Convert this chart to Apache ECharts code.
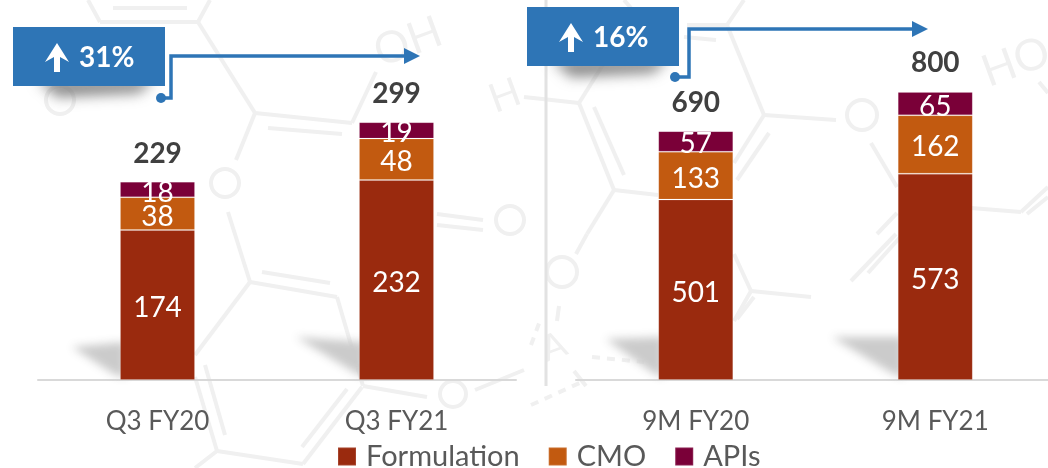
<!DOCTYPE html>
<html>
<head>
<meta charset="utf-8">
<style>
  html, body { margin: 0; padding: 0; background: #fff; overflow: hidden; }
  #chart { width: 1048px; height: 468px; }
</style>
<script src="https://cdn.jsdelivr.net/npm/echarts@6/dist/echarts.min.js"></script>
</head>
<body>
<div id="chart"></div>
<script>
const quarterLabels = ['Q3 FY20', 'Q3 FY21'];
const nineMonthLabels = ['9M FY20', '9M FY21'];

const formulationQ = [174, 232];
const cmoQ = [38, 48];
const apisQ = [18, 19];
const totalQ = [229, 299];

const formulation9M = [501, 573];
const cmo9M = [133, 162];
const apis9M = [57, 65];
const total9M = [690, 800];

const seriesNames = ['Formulation', 'CMO', 'APIs'];
const seriesColors = ['#9a2a0e', '#c25a10', '#7a0038'];

const FONT = 'Lato';
const BLUE = '#2e75b6';
const FAINT = '#f0f0f0';
const OFF = 3000; // shadows are cast from off-canvas shapes so only the blur shows

// faded molecule drawing behind the chart
const bonds = [
  [100,22,198,22],[113,8,187,8],[100,22,88,0],[198,22,210,0],[198,22,255,113],[255,113,352,123],
  [268,128,342,134],[352,123,376,72],[255,113,236,160],[228,212,250,282],[250,282,337,297],
  [262,272,330,283],[250,282,195,355],[205,365,225,435],[195,377,217,451],[337,297,363,386],
  [347,389,302,447],[362,387,303,464],[363,386,427,397],[475,390,524,370],[217,451,303,464],
  [217,451,195,468],[437,214,483,220],[437,225,483,230],[687,25,727,25],[727,25,764,115],
  [727,25,744,0],[624,0,631,8],[684,37,716,40],[764,115,836,120],[764,115,734,163],
  [769,133,737,180],[524,97,579,103],[579,103,614,190],[594,107,624,175],[579,103,604,63],
  [614,190,658,195],[614,190,587,234],[587,234,576,254],[559,306,557,321],[574,371,586,386],
  [734,254,751,291],[751,291,811,297],[751,291,734,321],[754,297,737,319],[871,143,897,187],
  [971,208,1021,212],[1021,212,1048,187],[1027,214,1048,197],[1039,82,1048,93],[896,234,851,281],
  [877,234,897,213],[903,234,868,273]
];
const rings = [[60,100,14],[225,183,14],[453,394,13],[510,220,14],[862,115,15],[562,272,15]];
const dashes = [[592,357,644,362],[531,405,584,381],[531,345,541,318]];
const marks = [
  { text: 'OH', x: 408, y: 42, size: 44, rot: 0.35 },
  { text: 'H', x: 505, y: 96, size: 40, rot: 0.35 },
  { text: 'HO', x: 1016, y: 62, size: 44, rot: 0.35 },
  { text: 'A', x: 554, y: 347, size: 36, rot: 0.35 }
];
const barShadows = [
  [[72,347],[125,342],[125,378],[112,373]],
  [[296,337],[365,342],[365,378],[352,371]],
  [[606,339],[663,337],[663,378],[650,371]],
  [[832,337],[903,337],[903,378],[888,371]]
];

function blurShape(points, blur, color, z) {
  return {
    type: 'polygon', z, silent: true,
    shape: { points: points.map(p => [p[0] - OFF, p[1]]) },
    style: { fill: '#000', shadowBlur: blur, shadowColor: color, shadowOffsetX: OFF }
  };
}

const background = [];
bonds.forEach(b => background.push({
  type: 'line', z: 0, silent: true,
  shape: { x1: b[0], y1: b[1], x2: b[2], y2: b[3] },
  style: { stroke: FAINT, lineWidth: 4 }
}));
rings.forEach(r => background.push({
  type: 'circle', z: 0, silent: true,
  shape: { cx: r[0], cy: r[1], r: r[2] },
  style: { fill: 'none', stroke: FAINT, lineWidth: 4 }
}));
dashes.forEach(d => background.push({
  type: 'line', z: 0, silent: true,
  shape: { x1: d[0], y1: d[1], x2: d[2], y2: d[3] },
  style: { stroke: FAINT, lineWidth: 4, lineDash: [8, 7] }
}));
marks.forEach(m => background.push({
  type: 'text', z: 0, silent: true, x: m.x, y: m.y, rotation: m.rot,
  style: { text: m.text, fill: FAINT, font: m.size + 'px ' + FONT, align: 'center', verticalAlign: 'middle' }
}));
barShadows.forEach(s => background.push(blurShape(s, 9, 'rgba(200,200,200,0.95)', 1)));

// callout box, its shadow, and the elbow arrow
function callout(left, top, label, dot, elbowX, lineY, tipX) {
  const arrowX = left + 44;
  return [
    blurShape([[left + 24, top + 52], [left + 142, top + 52], [left + 126, top + 66], [left + 44, top + 70]], 13, 'rgba(125,125,125,0.9)', 5),
    { type: 'polyline', z: 6, silent: true,
      shape: { points: [[dot[0], dot[1]], [elbowX, dot[1]], [elbowX, lineY], [tipX - 14, lineY]] },
      style: { stroke: BLUE, lineWidth: 3.5, fill: 'none' } },
    { type: 'circle', z: 6, silent: true, shape: { cx: dot[0], cy: dot[1], r: 5 }, style: { fill: BLUE } },
    { type: 'polygon', z: 6, silent: true,
      shape: { points: [[tipX - 16, lineY - 8], [tipX, lineY], [tipX - 16, lineY + 8]] },
      style: { fill: BLUE } },
    { type: 'rect', z: 7, silent: true, shape: { x: left, y: top, width: 152, height: 59 }, style: { fill: BLUE } },
    { type: 'polygon', z: 8, silent: true,
      shape: { points: [[arrowX, top + 16], [arrowX + 12, top + 35], [arrowX + 3, top + 30], [arrowX + 3, top + 45],
        [arrowX - 3, top + 45], [arrowX - 3, top + 30], [arrowX - 12, top + 35]] },
      style: { fill: '#fff' } },
    { type: 'text', z: 8, x: left + 66, y: top + 31,
      style: { text: label, fill: '#fff', font: 'bold 28px ' + FONT, verticalAlign: 'middle' } }
  ];
}

function barSeries(name, color, values, axisIndex, stack) {
  return {
    name, type: 'bar', stack, data: values, barWidth: 75,
    xAxisIndex: axisIndex, yAxisIndex: axisIndex,
    itemStyle: { color, borderColor: 'rgba(255,255,255,0.12)', borderWidth: 1 },
    label: { show: true, position: 'inside', offset: [0, 3], color: '#fff', fontFamily: FONT, fontSize: 28 },
    z: 3
  };
}

function totalSeries(values, axisIndex) {
  return {
    name: 'Total', type: 'line', data: values, symbol: 'circle', symbolSize: 1,
    xAxisIndex: axisIndex, yAxisIndex: axisIndex,
    lineStyle: { opacity: 0 },
    itemStyle: { color: 'rgba(0,0,0,0)' },
    label: { show: true, position: 'top', distance: 14, color: '#404040', fontFamily: FONT, fontSize: 28, fontWeight: 'bold' },
    z: 4
  };
}

function categoryAxis(labels, gridIndex) {
  return {
    type: 'category', gridIndex, data: labels,
    axisLine: { lineStyle: { color: '#d9d9d9', width: 2 } },
    axisTick: { show: false },
    axisLabel: { color: '#595959', fontFamily: FONT, fontSize: 26, margin: 29, interval: 0 }
  };
}

var myChart = echarts.init(document.getElementById('chart'), null, { renderer: 'canvas' });
myChart.setOption({
  animation: false,
  backgroundColor: '#fff',
  legend: {
    data: seriesNames,
    left: 332, top: 437,
    itemWidth: 18, itemHeight: 18, itemGap: 28,
    icon: 'rect',
    textStyle: { color: '#595959', fontFamily: FONT, fontSize: 29, padding: [0, 0, 0, 5] }
  },
  grid: [
    { left: 38, top: 80, width: 478, height: 300, outerBoundsMode: 'none' },
    { left: 576, top: 80, width: 479, height: 300, outerBoundsMode: 'none' }
  ],
  xAxis: [categoryAxis(quarterLabels, 0), categoryAxis(nineMonthLabels, 1)],
  yAxis: [
    { type: 'value', gridIndex: 0, min: 0, max: 348, show: false },
    { type: 'value', gridIndex: 1, min: 0, max: 833, show: false }
  ],
  graphic: {
    elements: [
      ...background,
      { type: 'line', z: 0, silent: true, shape: { x1: 546, y1: 0, x2: 546, y2: 386 }, style: { stroke: '#e2e2e2', lineWidth: 3 } },
      ...callout(13, 27, '31%', [161, 98], 171, 56, 420),
      ...callout(527, 7, '16%', [675, 77], 689, 29, 928)
    ]
  },
  series: [
    barSeries(seriesNames[0], seriesColors[0], formulationQ, 0, 'q'),
    barSeries(seriesNames[1], seriesColors[1], cmoQ, 0, 'q'),
    barSeries(seriesNames[2], seriesColors[2], apisQ, 0, 'q'),
    totalSeries(totalQ, 0),
    barSeries(seriesNames[0], seriesColors[0], formulation9M, 1, 'm'),
    barSeries(seriesNames[1], seriesColors[1], cmo9M, 1, 'm'),
    barSeries(seriesNames[2], seriesColors[2], apis9M, 1, 'm'),
    totalSeries(total9M, 1)
  ]
});
</script>
</body>
</html>
